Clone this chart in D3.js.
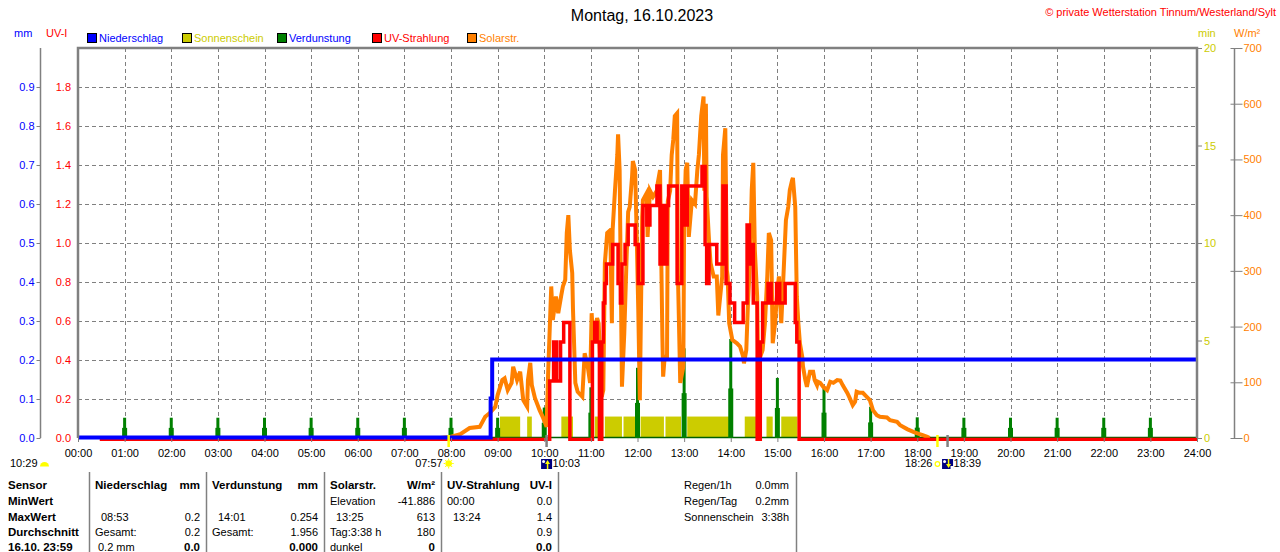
<!DOCTYPE html>
<html>
<head>
<meta charset="utf-8">
<script src="https://cdn.jsdelivr.net/npm/d3@7"></script>
<style>
  html, body { margin: 0; padding: 0; background: #fff; }
  svg { display: block; font-family: "Liberation Sans", Arial, sans-serif; }
</style>
</head>
<body>
<svg id="c" width="1280" height="552"></svg>
<script>
// ---------------- DATA ----------------
const title = "Montag, 16.10.2023";
const copyright = "\u00A9 private Wetterstation Tinnum/Westerland/Sylt";

const hourLabels = ["00:00","01:00","02:00","03:00","04:00","05:00","06:00","07:00","08:00","09:00","10:00","11:00","12:00",
  "13:00","14:00","15:00","16:00","17:00","18:00","19:00","20:00","21:00","22:00","23:00","24:00"];
const mmTicks = [0.0,0.1,0.2,0.3,0.4,0.5,0.6,0.7,0.8,0.9];
const uvTicks = [0.0,0.2,0.4,0.6,0.8,1.0,1.2,1.4,1.6,1.8];
const minTicks = [0,5,10,15,20];
const solTicks = [0,100,200,300,400,500,600,700];

const legendNames = ["Niederschlag","Sonnenschein","Verdunstung","UV-Strahlung","Solarstr."];
const legendFill  = ["#0000ff","#cccc00","#008000","#ff0000","#ff8000"];
const legendText  = ["#0000ff","#cccc00","#0000ff","#ff0000","#ff8000"];

// Niederschlag (mm, cumulative)
const precipTimes = ["00:00","08:51","08:53","24:00"];
const precipVals  = [0.0, 0.1, 0.2, 0.2];

// Sonnenschein (min)
const sunStart = ["09:03","09:38","10:22","11:05","11:18","11:42","12:04","12:36","13:04","14:18","14:46","15:05"];
const sunEnd   = ["09:29","09:44","10:37","11:16","11:40","11:58","12:34","12:56","13:58","14:33","14:54","15:26"];
const sunMin   = [1.1,1.1,1.1,1.1,1.1,1.1,1.1,1.1,1.1,1.1,1.1,1.1];

// Verdunstung (mm)
const evapTimes = ["01:00","02:00","03:00","04:00","05:00","06:00","07:00","08:00","09:00","10:00","11:00","12:00",
  "13:00","14:00","15:00","16:00","17:00","18:00","19:00","20:00","21:00","22:00","23:00"];
const evapVals = [0.052,0.052,0.052,0.052,0.052,0.052,0.052,0.052,0.052,0.078,0.13,0.18,
  0.23,0.254,0.154,0.13,0.08,0.053,0.052,0.052,0.052,0.052,0.052];

// UV-Strahlung (UV-I)
const uvTimes = ["00:28","10:07","10:12","10:16","10:21","10:25","10:33","11:02","11:05","11:08","11:11","11:14","11:16",
  "11:18","11:20","11:28","11:35","11:38","11:40","11:44","11:48","11:57","12:01","12:07","12:12","12:16","12:25","12:29",
  "12:32","12:34","12:38","12:40","12:51","12:57","13:01","13:04","13:23","13:27","13:29","13:32","13:42","13:50","13:54",
  "13:59","14:05","14:16","14:21","14:24","14:26","14:29","14:34","14:38","14:41","14:48","14:52","14:59","15:03","15:10",
  "15:23","15:25","15:28","24:00"];
const uvVals = [0,0.3,0.5,0.3,0.5,0.6,0,0.5,0.6,0.5,0,0.5,0.7,
  0.8,0.9,1.0,0.8,0.7,0.9,1.0,1.1,1.0,0.8,1.2,1.1,1.2,1.3,0.9,
  1.2,0.9,1.2,1.3,0.8,1.3,1.1,1.3,1.4,1.0,0.8,1.0,0.9,1.3,0.8,
  0.7,0.6,0.7,1.1,0.9,1.0,0.7,0,0.5,0.7,0.8,0.7,0.8,0.7,0.8,
  0.6,0.5,0,0];

// Solarstrahlung (W/m²)
const solTimes = ["07:46","07:59","08:12","08:24","08:37","08:44","08:50","08:57","09:00","09:06","09:09","09:13",
  "09:18","09:20","09:25","09:29","09:33","09:38","09:39","09:42","09:44","09:48","09:54","09:58","10:03","10:05","10:09",
  "10:11","10:15","10:18","10:22","10:24","10:27","10:29","10:31","10:33","10:36","10:37","10:40","10:43","10:49","10:52",
  "10:56","10:59","11:01","11:03","11:08","11:10","11:14","11:16","11:18","11:21","11:25","11:27","11:28","11:31","11:34",
  "11:35","11:37","11:39","11:40","11:43","11:46","11:48","11:50","11:53","11:54","11:57","11:59","12:01","12:03","12:06",
  "12:07","12:12","12:13","12:16","12:20","12:25","12:26","12:29","12:32","12:33","12:35","12:38","12:39","12:42","12:44",
  "12:46","12:48","12:51","12:52","12:55","12:59","13:00","13:02","13:04","13:06","13:10","13:14","13:17","13:19","13:22",
  "13:25","13:26","13:28","13:29","13:32","13:34","13:38","13:42","13:44","13:49","13:50","13:53","13:55","13:56","13:58",
  "14:02","14:08","14:12","14:16","14:17","14:20","14:22","14:25","14:27","14:29","14:31","14:34","14:35","14:38","14:41",
  "14:44","14:47","14:49","14:52","14:54","14:57","15:00","15:02","15:05","15:07","15:11","15:14","15:16","15:19","15:20",
  "15:23","15:25","15:27","15:29","15:32","15:33","15:36","15:38","15:39","15:42","15:46","15:48","15:51","15:52","15:55",
  "15:59","16:04","16:08","16:12","16:17","16:21","16:24","16:30","16:33","16:37","16:40","16:42","16:46","16:50","16:55",
  "16:59","17:03","17:08","17:12","17:21","17:25","17:34","17:38","17:47","17:55","18:01","18:07","18:13","18:16"];
const solVals = [0,2,7,18,20,38,45,56,77,104,107,86,
  99,128,104,119,68,56,104,135,95,72,50,38,20,116,272,
  212,254,224,257,272,284,368,400,337,296,230,99,83,74,152,
  128,99,224,176,215,206,74,86,314,368,373,206,373,444,508,
  545,481,220,92,188,325,406,415,469,497,481,361,230,68,397,
  427,440,361,444,433,444,457,481,182,110,146,146,425,444,508,
  535,578,583,296,99,128,386,481,494,361,427,420,481,508,578,
  613,444,600,433,355,314,290,290,220,290,508,556,301,290,206,
  176,170,164,146,134,158,236,326,445,494,337,254,158,146,158,
  206,290,368,355,170,206,266,290,206,266,391,415,445,463,467,
  415,254,206,170,146,128,104,92,99,119,119,104,95,101,99,
  92,86,101,99,104,103,95,81,72,59,65,83,81,81,74,
  68,50,41,38,37,32,29,23,16,11,8,5,2,0];

// Sun / moon events
const dayLength = "10:29";
const sunrise = "07:57", sunset = "18:26";
const moonrise = "10:03", moonset = "18:39";

// Table
const tableRowLabels = ["Sensor","MinWert","MaxWert","Durchschnitt","16.10. 23:59"];
const tableCols = [
  { head:["Niederschlag","mm"], rows:[["",""],["08:53","0.2"],["Gesamt:","0.2"],["0.2 mm","0.0"]] },
  { head:["Verdunstung","mm"], rows:[["",""],["14:01","0.254"],["Gesamt:","1.956"],["","0.000"]] },
  { head:["Solarstr.","W/m\u00B2"], rows:[["Elevation","-41.886"],["13:25","613"],["Tag:3:38 h","180"],["dunkel","0"]] },
  { head:["UV-Strahlung","UV-I"], rows:[["00:00","0.0"],["13:24","1.4"],["","0.9"],["","0.0"]] }
];
const summaryLabels = ["Regen/1h","Regen/Tag","Sonnenschein"];
const summaryVals = ["0.0mm","0.2mm","3:38h"];

// ---------------- DRAW ----------------
const tm = s => { const [h,m] = s.split(":").map(Number); return h*60+m; };
const svg = d3.select("#c");
const FONT = '"Liberation Sans", Arial, sans-serif';
const L = 78, R = 1197, T = 48, B = 438;
const GRAY = "#808080";

const x = d3.scaleLinear([0,1440],[L,R]);
const yUV = d3.scaleLinear([0,2],[B,T]);
const yMM = d3.scaleLinear([0,1],[B,T]);
const yMin = d3.scaleLinear([0,20],[B,T]);
const ySol = d3.scaleLinear([0,700],[B,T]);

function styleAxis(g, color) {
  g.attr("font-family", FONT).attr("font-size", 11);
  g.selectAll("text").attr("fill", color);
  g.select(".domain").remove();
}

// title & copyright
svg.append("text").attr("x", 642).attr("y", 21).attr("text-anchor","middle")
  .attr("font-size", 16).attr("fill","#000").text(title);
svg.append("text").attr("x", 1276).attr("y", 16).attr("text-anchor","end")
  .attr("font-size", 11).attr("fill","#ff0000").text(copyright);

// unit labels
svg.append("text").attr("x",14).attr("y",37).attr("font-size",11).attr("fill","#0000ff").text("mm");
svg.append("text").attr("x",46).attr("y",37).attr("font-size",11).attr("fill","#ff0000").text("UV-I");
svg.append("text").attr("x",1198).attr("y",37).attr("font-size",11).attr("fill","#cccc00").text("min");
svg.append("text").attr("x",1234).attr("y",37).attr("font-size",11).attr("fill","#ff8000").text("W/m\u00B2");

// legend
const lg = svg.append("g");
legendNames.forEach((n,i) => {
  const gx = 87 + i*95;
  lg.append("rect").attr("x", gx+0.5).attr("y", 33.5).attr("width", 9).attr("height", 9)
    .attr("fill", legendFill[i]).attr("stroke","#000").attr("stroke-width",1);
  lg.append("text").attr("x", gx+12).attr("y", 42).attr("font-size", 11).attr("fill", legendText[i]).text(n);
});

// grid
const grid = svg.append("g").attr("stroke", GRAY).attr("stroke-width",1).attr("stroke-dasharray","4,3");
uvTicks.filter(v => v > 0).forEach(v => {
  grid.append("line").attr("x1",L).attr("x2",R).attr("y1",Math.round(yUV(v))+0.5).attr("y2",Math.round(yUV(v))+0.5);
});
hourLabels.slice(1,-1).forEach(h => {
  const xx = Math.round(x(tm(h)))+0.5;
  grid.append("line").attr("x1",xx).attr("x2",xx).attr("y1",T).attr("y2",B);
});

// clip
svg.append("clipPath").attr("id","plot").append("rect").attr("x",L).attr("y",T).attr("width",R-L).attr("height",B-T+3);
const plot = svg.append("g").attr("clip-path","url(#plot)");

// sunshine bars
plot.append("g").selectAll("rect").data(sunStart).join("rect")
  .attr("x", (d,i) => x(tm(d)))
  .attr("width", (d,i) => x(tm(sunEnd[i])) - x(tm(d)))
  .attr("y", (d,i) => yMin(sunMin[i]))
  .attr("height", (d,i) => B - yMin(sunMin[i]))
  .attr("fill", "#cccc00");

// evaporation baseline
plot.append("line").attr("x1",L).attr("x2",R).attr("y1",B-0.5).attr("y2",B-0.5)
  .attr("stroke","#006000").attr("stroke-width",1.5);

// evaporation bars
const eg = plot.append("g").attr("fill","#008000");
evapTimes.forEach((t,i) => {
  const cx = x(tm(t));
  const v = evapVals[i];
  eg.append("rect").attr("x", cx-2.5).attr("width",5).attr("y", yMM(v/2)).attr("height", B - yMM(v/2));
  eg.append("rect").attr("x", cx-1.5).attr("width",3).attr("y", yMM(v)).attr("height", B - yMM(v));
});

// solar line
const solData = solTimes.map((t,i) => [tm(t), solVals[i]]);
plot.append("path").datum(solData)
  .attr("d", d3.line().x(d => x(d[0])).y(d => ySol(d[1])))
  .attr("fill","none").attr("stroke","#ff8000").attr("stroke-width",4).attr("stroke-linejoin","miter");

// UV line
const uvData = uvTimes.map((t,i) => [tm(t), uvVals[i]]);
plot.append("path").datum(uvData)
  .attr("transform","translate(0,1.5)")
  .attr("d", d3.line().curve(d3.curveStepAfter).x(d => x(d[0])).y(d => yUV(d[1])))
  .attr("fill","none").attr("stroke","#ff0000").attr("stroke-width",3.5);

// precipitation line
const prData = precipTimes.map((t,i) => [tm(t), precipVals[i]]);
plot.append("path").datum(prData)
  .attr("transform","translate(0,-0.5)")
  .attr("d", d3.line().curve(d3.curveStepAfter).x(d => x(d[0])).y(d => yMM(d[1])))
  .attr("fill","none").attr("stroke","#0000ff").attr("stroke-width",4);

// frame
svg.append("path")
  .attr("d", `M${L},${B} V${T} H${R} V${B}`)
  .attr("fill","none").attr("stroke",GRAY).attr("stroke-width",2.5);

// left mm axis
const gMM = svg.append("g").attr("transform","translate(40.5,0)")
  .call(d3.axisLeft(yMM).tickValues(mmTicks).tickFormat(d3.format(".1f")).tickSize(4).tickPadding(2));
styleAxis(gMM, "#0000ff");
gMM.selectAll("line").attr("stroke", GRAY);
svg.append("line").attr("x1",40.5).attr("x2",40.5).attr("y1",T).attr("y2",B).attr("stroke",GRAY).attr("stroke-width",1.5);

// left UV axis labels
const gUV = svg.append("g").attr("transform",`translate(${L},0)`)
  .call(d3.axisLeft(yUV).tickValues(uvTicks).tickFormat(d3.format(".1f")).tickSize(0).tickPadding(7));
styleAxis(gUV, "#ff0000");

// right min axis
const gMin = svg.append("g").attr("transform",`translate(${R},0)`)
  .call(d3.axisRight(yMin).tickValues(minTicks).tickSize(5).tickPadding(2));
styleAxis(gMin, "#cccc00");
gMin.selectAll("line").attr("stroke", GRAY);

// right W/m² axis
const gSol = svg.append("g").attr("transform","translate(1234.5,0)")
  .call(d3.axisRight(ySol).tickValues(solTicks).tickSize(8).tickPadding(1));
styleAxis(gSol, "#ff8000");
gSol.selectAll("line").attr("stroke", GRAY).attr("x1",-4);
svg.append("line").attr("x1",1234.5).attr("x2",1234.5).attr("y1",T).attr("y2",B).attr("stroke",GRAY).attr("stroke-width",1.5);

// x axis
const gX = svg.append("g").attr("transform",`translate(0,${B})`)
  .call(d3.axisBottom(x).tickValues(hourLabels.map(tm)).tickFormat((d,i) => hourLabels[i]).tickSize(4).tickPadding(7));
styleAxis(gX, "#000");
gX.selectAll("line").attr("stroke", GRAY);

// sun / moon markers
function tick(t, color) {
  svg.append("line").attr("x1", x(tm(t))).attr("x2", x(tm(t))).attr("y1", 435).attr("y2", 447)
    .attr("stroke", color).attr("stroke-width", 2.5);
}
tick(sunrise, "#ffff00"); tick(sunset, "#ffff00");
tick(moonrise, GRAY); tick(moonset, GRAY);

const evY = 467;
// day length
svg.append("text").attr("x",10).attr("y",evY).attr("font-size",11).text(dayLength);
svg.append("path").attr("d","M40,466.5 A4.5,4.5 0 0 1 49,466.5 Z").attr("fill","#ffff00");

// sunrise icon
{
  const cx = x(tm(sunrise)), cy = 463.5;
  svg.append("text").attr("x", cx-6).attr("y", evY).attr("text-anchor","end").attr("font-size",11).text(sunrise);
  const sg = svg.append("g").attr("stroke","#ffff00").attr("stroke-width",1);
  d3.range(8).forEach(k => {
    const a = k*Math.PI/4;
    sg.append("line").attr("x1",cx+Math.cos(a)*3.5).attr("y1",cy+Math.sin(a)*3.5)
      .attr("x2",cx+Math.cos(a)*5).attr("y2",cy+Math.sin(a)*5);
  });
  svg.append("circle").attr("cx",cx).attr("cy",cy).attr("r",3.3).attr("fill","#ffff00");
}
// sunset icon
{
  const cx = x(tm(sunset)), cy = 464;
  svg.append("text").attr("x", cx-5).attr("y", evY).attr("text-anchor","end").attr("font-size",11).text(sunset);
  svg.append("circle").attr("cx",cx).attr("cy",cy).attr("r",2.3).attr("fill","none").attr("stroke","#ffff00").attr("stroke-width",1.2);
}
// moon icons
function moonIcon(t, up) {
  const cx = x(tm(t));
  svg.append("rect").attr("x",cx-5.5).attr("y",459).attr("width",11).attr("height",10).attr("fill","#000080");
  svg.append("circle").attr("cx",cx-3).attr("cy",461.5).attr("r",1.5).attr("fill","#ffffff");
  const ax = cx+1;
  if (up) {
    svg.append("path").attr("d",`M${ax},460 L${ax+2.5},464 L${ax-2.5},464 Z`).attr("fill","#ffff00");
    svg.append("rect").attr("x",ax-0.75).attr("y",463).attr("width",1.5).attr("height",6).attr("fill","#ffff00");
  } else {
    svg.append("rect").attr("x",ax-0.75).attr("y",459).attr("width",1.5).attr("height",5).attr("fill","#ffff00");
    svg.append("path").attr("d",`M${ax},468 L${ax+2.5},464 L${ax-2.5},464 Z`).attr("fill","#ffff00");
    svg.append("rect").attr("x",cx+3).attr("y",466).attr("width",2.5).attr("height",3).attr("fill","#ffffff");
  }
  svg.append("text").attr("x", cx+6).attr("y", evY).attr("font-size",11).text(t);
}
moonIcon(moonrise, true);
moonIcon(moonset, false);

// table
const rowY = [489,505,520.5,536,550.5];
const tbl = svg.append("g").attr("font-size",11).attr("fill","#000");
tableRowLabels.forEach((lab,i) => {
  tbl.append("text").attr("x",8).attr("y",rowY[i]).attr("font-weight","bold").attr("font-size",11.5).text(lab);
});
const colLeft = [89,206,324,441];
[89,206,324,441,558,796].forEach(xx => {
  svg.append("line").attr("x1",xx+0.5).attr("x2",xx+0.5).attr("y1",472).attr("y2",552).attr("stroke",GRAY).attr("stroke-width",1.5);
});
const colEnds = [206,324,441,558];
tableCols.forEach((c,ci) => {
  const lx = colLeft[ci] + 6, rx = colEnds[ci] - 6;
  tbl.append("text").attr("x",lx).attr("y",rowY[0]).attr("font-weight","bold").attr("font-size",11.5).text(c.head[0]);
  tbl.append("text").attr("x",rx).attr("y",rowY[0]).attr("text-anchor","end").attr("font-weight","bold").attr("font-size",11.5).text(c.head[1]);
  c.rows.forEach((r,ri) => {
    const last = ri === c.rows.length-1;
    const indent = (ri === 1 || (last && ci === 0)) ? (ri === 1 ? 6 : 3) : 0;
    if (r[0]) tbl.append("text").attr("x", lx + indent).attr("y", rowY[ri+1]).text(r[0]);
    if (r[1]) tbl.append("text").attr("x", rx).attr("y", rowY[ri+1]).attr("text-anchor","end")
      .attr("font-weight", last ? "bold" : "normal").attr("font-size", last ? 11.5 : 11).text(r[1]);
  });
});
summaryLabels.forEach((s,i) => {
  tbl.append("text").attr("x",684).attr("y",rowY[i]).text(s);
  tbl.append("text").attr("x",789).attr("y",rowY[i]).attr("text-anchor","end").text(summaryVals[i]);
});
</script>
</body>
</html>
